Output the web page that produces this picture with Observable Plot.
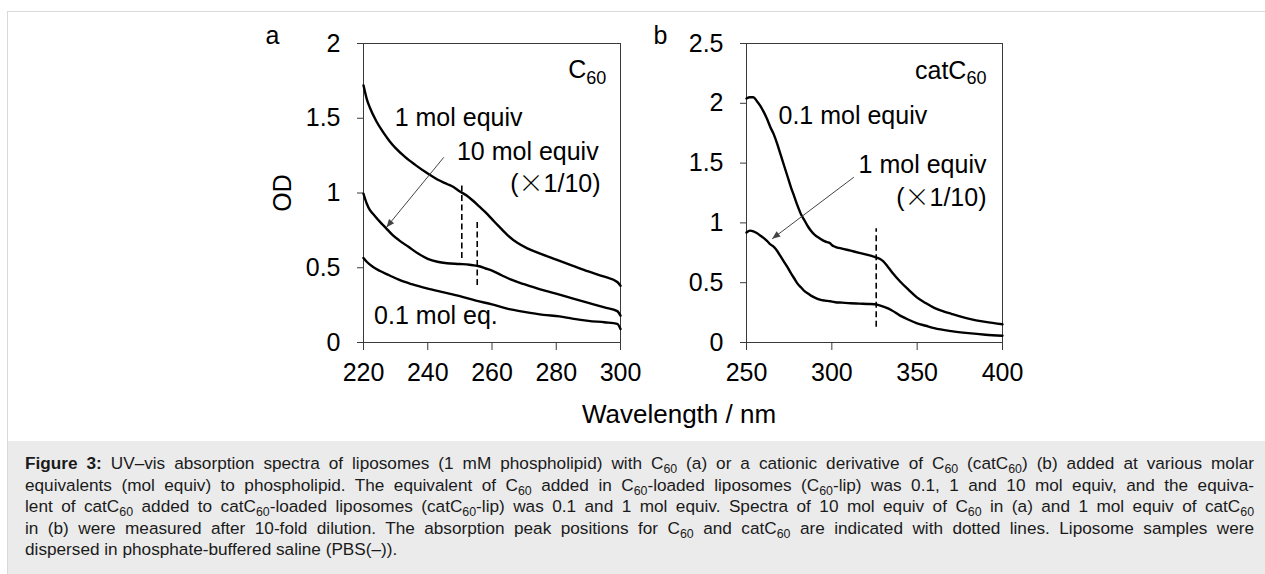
<!DOCTYPE html>
<html><head><meta charset="utf-8">
<script src="https://cdn.jsdelivr.net/npm/d3@7"></script>
<script src="https://cdn.jsdelivr.net/npm/@observablehq/plot@0.6"></script>
<style>
html,body{margin:0;padding:0;background:#fff;width:1265px;height:574px;overflow:hidden;font-family:"Liberation Sans",Arial,Helvetica,sans-serif;}
#fig{position:absolute;left:7px;top:11px;width:1300px;height:600px;border:1px solid #d9d9d9;background:#fff;box-sizing:border-box;}
#cap{position:absolute;left:8px;top:441px;width:1300px;height:200px;background:#ebebeb;}
.pl{position:absolute;top:0;}
#xlabel{position:absolute;left:479px;width:400px;text-align:center;top:401px;font-size:26px;line-height:26px;color:#000;}
.cl{position:absolute;left:25px;width:1229px;font-size:17.2px;line-height:21.5px;height:21.5px;text-align:justify;text-align-last:justify;color:#1a1a1a;}
.cl.last{text-align-last:left;}
.cl sub{font-size:0.72em;line-height:0;vertical-align:-0.3em;}
</style></head>
<body>
<div id="fig"></div>
<div id="cap"></div>
<div id="pa" class="pl" style="left:200px"></div>
<div id="pb" class="pl" style="left:640px"></div>
<div id="xlabel">Wavelength / nm</div>
<div class="cl" style="top:453px"><b>Figure 3:</b> UV–vis absorption spectra of liposomes (1 mM phospholipid) with C<sub>60</sub> (a) or a cationic derivative of C<sub>60</sub> (catC<sub>60</sub>) (b) added at various molar</div>
<div class="cl" style="top:474.5px">equivalents (mol equiv) to phospholipid. The equivalent of C<sub>60</sub> added in C<sub>60</sub>-loaded liposomes (C<sub>60</sub>-lip) was 0.1, 1 and 10 mol equiv, and the equiva-</div>
<div class="cl" style="top:496px">lent of catC<sub>60</sub> added to catC<sub>60</sub>-loaded liposomes (catC<sub>60</sub>-lip) was 0.1 and 1 mol equiv. Spectra of 10 mol equiv of C<sub>60</sub> in (a) and 1 mol equiv of catC<sub>60</sub></div>
<div class="cl" style="top:517.5px">in (b) were measured after 10-fold dilution. The absorption peak positions for C<sub>60</sub> and catC<sub>60</sub> are indicated with dotted lines. Liposome samples were</div>
<div class="cl last" style="top:539px">dispersed in phosphate-buffered saline (PBS(–)).</div>
<script>
// ---------- Panel a: C60 ----------
const xTicksA = [220, 240, 260, 280, 300];
const yTicksA = [0, 0.5, 1, 1.5, 2];
// 1 mol equiv
const wlA_1 = [220,221,222,224,226,228,230,233,236,240,243,246,248,250,252,254,256,258,260,262,265,268,271,275,280,285,290,295,299,300];
const odA_1 = [1.72,1.63,1.57,1.48,1.41,1.35,1.30,1.24,1.19,1.13,1.09,1.06,1.04,1.01,0.985,0.95,0.91,0.87,0.825,0.78,0.715,0.665,0.63,0.595,0.555,0.515,0.475,0.44,0.405,0.38];
// 10 mol equiv (x1/10)
const wlA_10 = [220,221,222,223,225,227,229,231,234,237,240,243,246,250,253,256,258,260,263,266,270,275,281,285,290,295,299,300];
const odA_10 = [0.995,0.93,0.885,0.86,0.81,0.765,0.72,0.685,0.64,0.595,0.56,0.54,0.53,0.525,0.52,0.51,0.495,0.48,0.45,0.42,0.39,0.355,0.32,0.295,0.265,0.235,0.21,0.18];
// 0.1 mol eq.
const wlA_01 = [220,221,223,225,228,231,235,240,245,250,255,260,265,270,276,281,285,290,295,299,300];
const odA_01 = [0.565,0.54,0.505,0.48,0.45,0.42,0.39,0.36,0.335,0.31,0.28,0.255,0.225,0.205,0.185,0.175,0.16,0.145,0.135,0.125,0.09];
// peak markers (dashed)
const peakWlA = [250.6, 255.4];
const peakLoA = [0.562, 0.381];
const peakHiA = [1.07, 0.816];

// ---------- Panel b: catC60 ----------
const xTicksB = [250, 300, 350, 400];
const yTicksB = [0, 0.5, 1, 1.5, 2, 2.5];
// 0.1 mol equiv
const wlB_01 = [250,252,254,256,258,260,262,264,266,268,270,272,274,276,278,280,282,284,286,288,290,293,296,299,300,302,306,311,316,321,325,328,330,333,336,340,345,350,355,360,365,370,380,390,400];
const odB_01 = [2.04,2.05,2.05,2.02,1.98,1.93,1.87,1.80,1.74,1.66,1.57,1.48,1.39,1.30,1.22,1.14,1.07,1.02,0.97,0.93,0.90,0.87,0.845,0.83,0.815,0.80,0.785,0.768,0.75,0.733,0.716,0.70,0.68,0.63,0.575,0.51,0.44,0.375,0.33,0.29,0.262,0.24,0.20,0.172,0.152];
// 1 mol equiv (x1/10)
const wlB_1 = [250,252,254,256,258,260,262,264,266,268,270,272,274,276,278,280,282,284,286,288,290,293,296,299,300,302,306,311,316,321,325,328,331,335,340,345,350,355,360,370,380,390,400];
const odB_1 = [0.92,0.935,0.93,0.915,0.895,0.875,0.85,0.82,0.80,0.765,0.72,0.675,0.63,0.58,0.535,0.49,0.46,0.43,0.41,0.39,0.375,0.358,0.35,0.345,0.342,0.337,0.333,0.328,0.325,0.322,0.32,0.31,0.295,0.27,0.225,0.19,0.16,0.14,0.12,0.095,0.078,0.065,0.056];
const peakWlB = [326.0];
const peakLoB = [0.128];
const peakHiB = [0.951];

// ---------- annotations (data units) ----------
const labelsA_start = [{t: "1 mol equiv", x: 229.7, y: 1.45}, {t: "0.1 mol eq.", x: 223.3, y: 0.127}];
const labelsA_end = [{t: "C_60", x: 295.6, y: 1.766}, {t: "10 mol equiv", x: 293.2, y: 1.224}, {t: "(×1/10)", x: 293.8, y: 1.005}];
const arrowA = [{x1: 245.0, y1: 1.239, x2: 227.16, y2: 0.771}];
const labelsB_start = [{t: "0.1 mol equiv", x: 268.75, y: 1.823}];
const labelsB_end = [{t: "catC_60", x: 390.6, y: 2.207}, {t: "1 mol equiv", x: 390.6, y: 1.42}, {t: "(×1/10)", x: 390.6, y: 1.145}];
const arrowB = [{x1: 312.9, y1: 1.382, x2: 265.06, y2: 0.867}];

const FONT = '"Liberation Sans", Arial, Helvetica, sans-serif';
const AXIS = "#3a3a3a";
const FS = 25;

const series = (wl, od, s) => wl.map((w, i) => ({wl: w, od: od[i], s}));
const peaks = (wl, lo, hi) => wl.map((w, i) => ({wl: w, lo: lo[i], hi: hi[i]}));

const dataA = [...series(wlA_1, odA_1, "1"), ...series(wlA_10, odA_10, "10"), ...series(wlA_01, odA_01, "0.1")];
const dataB = [...series(wlB_01, odB_01, "0.1"), ...series(wlB_1, odB_1, "1")];

function panel({width, marginLeft, marginRight, xDomain, yDomain, xTicks, yTicks, data, pk, ls, le, arrow, letter, letterDx, ylabel}) {
  const marks = [
    Plot.frame({stroke: AXIS, strokeWidth: 1}),
    Plot.axisX({ticks: xTicks, tickSize: 8, tickPadding: 13, tickFormat: d => String(d), fontSize: FS, stroke: AXIS, fill: "#000", label: null}),
    Plot.axisY({ticks: yTicks, tickSize: 6, tickPadding: 17, tickFormat: d => String(d), fontSize: FS, stroke: AXIS, fill: "#000", label: null}),
    Plot.ruleX(pk, {x: "wl", y1: "lo", y2: "hi", stroke: "#000", strokeWidth: 1.6, strokeDasharray: "6,3.5"}),
    Plot.line(data, {x: "wl", y: "od", z: "s", stroke: "#000", strokeWidth: 2.4, curve: "monotone-x"}),
    Plot.link(arrow, {x1: "x1", y1: "y1", x2: "x2", y2: "y2", stroke: "#444", strokeWidth: 1, markerEnd: "arrow"}),
    Plot.text(ls, {x: "x", y: "y", text: "t", textAnchor: "start", lineAnchor: "bottom", fontSize: FS, fill: "#000"}),
    Plot.text(le, {x: "x", y: "y", text: "t", textAnchor: "end", lineAnchor: "bottom", fontSize: FS, fill: "#000"}),
    Plot.text([letter], {text: d => d, frameAnchor: "top-left", dx: letterDx, textAnchor: "start", lineAnchor: "bottom", fontSize: FS, fill: "#000"})
  ];
  if (ylabel) marks.push(Plot.text([ylabel], {text: d => d, frameAnchor: "left", dx: -81, rotate: -90, textAnchor: "middle", lineAnchor: "middle", fontSize: FS, fill: "#000"}));
  const svg = Plot.plot({
    width, height: 400, marginLeft, marginRight, marginTop: 43, marginBottom: 58,
    x: {domain: xDomain, label: null},
    y: {domain: yDomain, label: null},
    style: {fontFamily: FONT, fontSize: FS + "px", background: "transparent", color: "#000", overflow: "visible"},
    marks
  });
  fix(svg);
  return svg;
}

function fix(svg) {
  const s = d3.select(svg);
  s.selectAll("text").each(function() {
    if (this.querySelector("tspan")) return;
    const t = this.textContent;
    if (t.includes("_")) {
      const [a, b] = t.split("_");
      this.textContent = a;
      d3.select(this).append("tspan").attr("dy", "0.28em").attr("font-size", "72%").text(b);
    } else if (t.includes("×")) {
      const i = t.indexOf("×");
      this.textContent = t.slice(0, i);
      d3.select(this).append("tspan").attr("font-family", '"Noto Sans CJK JP", sans-serif').attr("font-weight", 300).text("×");
      d3.select(this).append("tspan").text(t.slice(i + 1));
    }
  });
  s.selectAll("marker").each(function() {
    const m = d3.select(this);
    const c = m.attr("stroke");
    m.attr("overflow", "visible").attr("viewBox", "-5 -5 10 10").attr("markerWidth", 10).attr("markerHeight", 10)
     .attr("fill", c).attr("stroke", "none");
    m.selectAll("path").attr("d", "M-8,-3.3L0,0L-8,3.3Z");
  });
}

document.getElementById("pa").append(panel({
  width: 440, marginLeft: 163, marginRight: 20, xDomain: [220, 300], yDomain: [0, 2],
  xTicks: xTicksA, yTicks: yTicksA, data: dataA, pk: peaks(peakWlA, peakLoA, peakHiA),
  ls: labelsA_start, le: labelsA_end, arrow: arrowA, letter: "a", letterDx: -98, ylabel: "OD"
}));
document.getElementById("pb").append(panel({
  width: 400, marginLeft: 106, marginRight: 38, xDomain: [250, 400], yDomain: [0, 2.5],
  xTicks: xTicksB, yTicks: yTicksB, data: dataB, pk: peaks(peakWlB, peakLoB, peakHiB),
  ls: labelsB_start, le: labelsB_end, arrow: arrowB, letter: "b", letterDx: -93, ylabel: null
}));
</script>
</body></html>
